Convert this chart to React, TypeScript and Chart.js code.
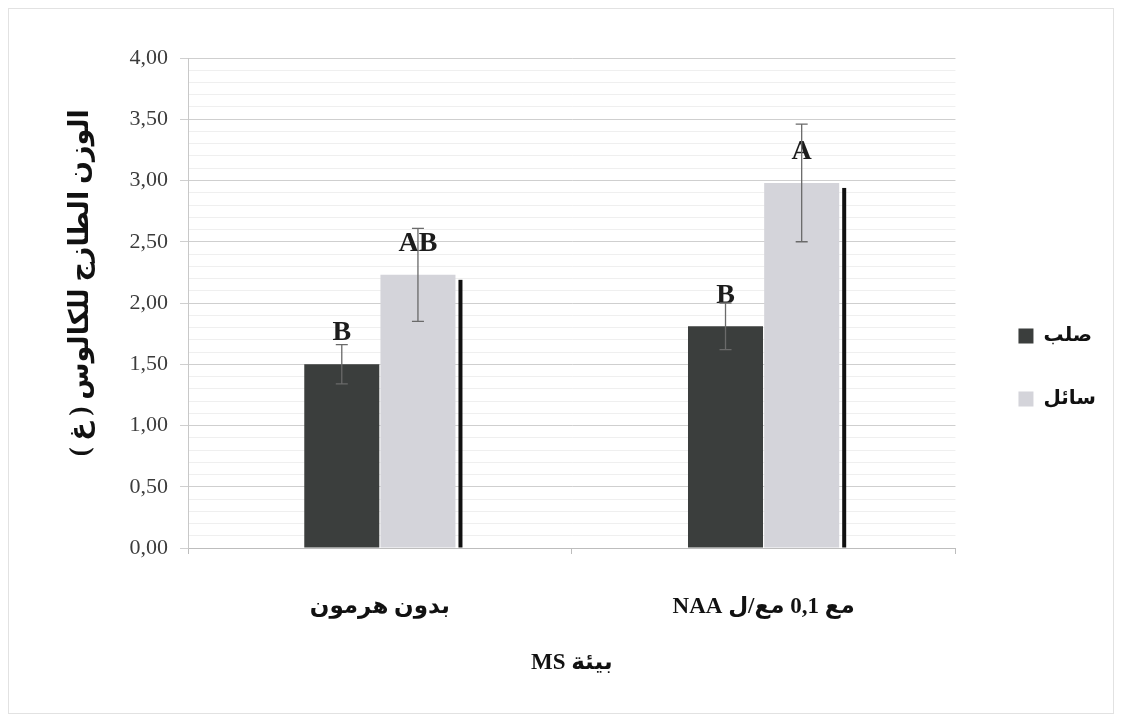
import React, { useEffect, useRef } from 'react';
import { Chart, registerables } from 'chart.js';

Chart.register(...registerables);

const categories = ['بدون هرمون', 'مع 0,1 مع/ل NAA'];
const seriesNames = ['صلب', 'سائل'];
const solidValues = [1.5, 1.81];
const liquidValues = [2.23, 2.98];
const solidErrors = [0.16, 0.19];
const liquidErrors = [0.38, 0.48];
const solidLetters = ['B', 'B'];
const liquidLetters = ['AB', 'A'];
const yMin = 0;
const yMax = 4;
const yMinorStep = 0.1;
const yMajorStep = 0.5;
const yTitle = 'الوزن الطازج للكالوس ( غ )\u00A0\u00A0\u00A0\u00A0\u00A0\u00A0';
const xTitle = 'بيئة MS';

const SERIF = '"Liberation Serif", "Times New Roman", "DejaVu Sans", serif';

const isMajor = (v: number) => Math.abs(v / yMajorStep - Math.round(v / yMajorStep)) < 1e-6;

const annotPlugin = {
  id: 'annot',
  afterDatasetsDraw(chart: any) {
    const ctx = chart.ctx;
    const yScale = chart.scales.y;
    const errs = [solidErrors, liquidErrors];
    const letters = [solidLetters, liquidLetters];
    ctx.save();
    // dark edge line beside the light bars
    const lightMeta = chart.getDatasetMeta(1);
    lightMeta.data.forEach((bar: any) => {
      const p = bar.getProps(['x', 'y', 'base', 'width'], true);
      ctx.fillStyle = '#111111';
      ctx.fillRect(p.x + p.width / 2 + 3, p.y + 5, 4, p.base - p.y - 5);
    });
    // letters
    [0, 1].forEach((d) => {
      const meta = chart.getDatasetMeta(d);
      meta.data.forEach((bar: any, i: number) => {
        ctx.font = 'bold 28px ' + SERIF;
        ctx.textAlign = 'center';
        ctx.textBaseline = 'middle';
        ctx.fillStyle = '#1c1c1c';
        ctx.fillText(letters[d][i], bar.x, bar.y - 31);
      });
    });
    // error bars
    [0, 1].forEach((d) => {
      const meta = chart.getDatasetMeta(d);
      meta.data.forEach((bar: any, i: number) => {
        const v = chart.data.datasets[d].data[i];
        const e = errs[d][i];
        const yT = yScale.getPixelForValue(v + e);
        const yB = yScale.getPixelForValue(v - e);
        ctx.strokeStyle = '#6a6a6a';
        ctx.lineWidth = 1.3;
        ctx.beginPath();
        ctx.moveTo(bar.x, yT);
        ctx.lineTo(bar.x, yB);
        ctx.moveTo(bar.x - 6, yT);
        ctx.lineTo(bar.x + 6, yT);
        ctx.moveTo(bar.x - 6, yB);
        ctx.lineTo(bar.x + 6, yB);
        ctx.stroke();
      });
    });
    ctx.restore();
  },
};

export default function App() {
  const ref = useRef<HTMLCanvasElement | null>(null);
  useEffect(() => {
    if (!ref.current) return;
    const chart = new Chart(ref.current, {
      type: 'bar',
      data: {
        labels: categories,
        datasets: [
          {
            label: seriesNames[0],
            data: solidValues,
            backgroundColor: '#3b3e3d',
            borderWidth: 0,
            categoryPercentage: 0.397,
            barPercentage: 0.985,
          },
          {
            label: seriesNames[1],
            data: liquidValues,
            backgroundColor: '#d4d4da',
            borderWidth: 0,
            categoryPercentage: 0.397,
            barPercentage: 0.985,
          },
        ],
      },
      options: {
        responsive: false,
        animation: false,
        devicePixelRatio: 1,
        layout: { padding: { top: 49, left: 0, right: 7, bottom: 36 } },
        plugins: {
          tooltip: { enabled: false },
          legend: {
            position: 'right',
            align: 'center',
            labels: {
              boxWidth: 15,
              boxHeight: 15,
              padding: 43,
              color: '#111',
              font: { family: SERIF, size: 20, weight: 'bold' },
            },
          },
        },
        scales: {
          x: {
            grid: { drawOnChartArea: false, drawTicks: true, tickLength: 6, color: '#bdbdbd', offset: true },
            border: { color: '#bdbdbd' },
            ticks: { color: '#111', padding: 39, font: { family: SERIF, size: 23, weight: 'bold' } },
            title: {
              display: true,
              text: xTitle,
              color: '#111',
              font: { family: SERIF, size: 23, weight: 'bold' },
              padding: { top: 0, bottom: 0 },
            },
            afterFit: (s: any) => {
              s.height = 129;
            },
          },
          y: {
            min: yMin,
            max: yMax,
            ticks: {
              stepSize: yMinorStep,
              autoSkip: false,
              padding: 12,
              color: '#3c3c3c',
              font: { family: SERIF, size: 22 },
              callback: (v: any) => (isMajor(Number(v)) ? Number(v).toFixed(2).replace('.', ',') : ''),
            },
            grid: {
              color: (c: any) => (c.tick && isMajor(c.tick.value) ? '#cfcfcf' : '#efefef'),
              tickColor: (c: any) => (c.tick && isMajor(c.tick.value) ? '#cfcfcf' : 'rgba(0,0,0,0)'),
              tickLength: 8,
            },
            border: { color: '#c8c8c8' },
            title: {
              display: true,
              text: yTitle,
              color: '#111',
              font: { family: SERIF, size: 27, weight: 'bold' },
              padding: { top: 56, bottom: 0 },
            },
            afterFit: (s: any) => {
              s.width = 179;
            },
          },
          y2: {
            type: 'linear',
            position: 'right',
            display: true,
            grid: { display: false },
            ticks: { display: false },
            border: { display: false },
            afterFit: (s: any) => {
              s.width = 20;
            },
          },
        },
      } as any,
      plugins: [annotPlugin],
    });
    return () => chart.destroy();
  }, []);
  return (
    <div
      style={{
        width: 1106,
        height: 706,
        boxSizing: 'border-box',
        border: '1px solid #e2e2e2',
        background: '#fff',
      }}
    >
      <canvas ref={ref} width={1104} height={704} dir="rtl" style={{ display: 'block', direction: 'rtl' }} />
    </div>
  );
}
